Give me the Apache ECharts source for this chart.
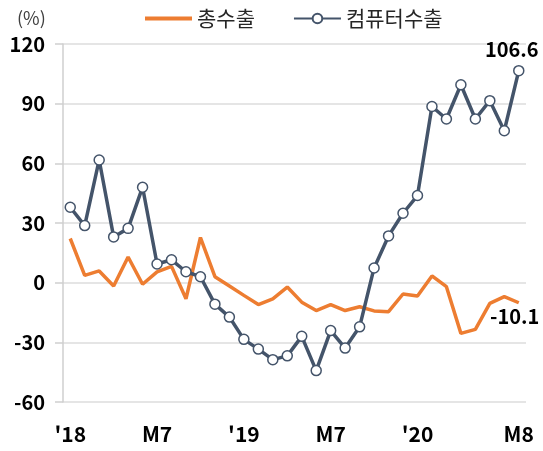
<!DOCTYPE html>
<html>
<head>
<meta charset="utf-8">
<script src="https://cdn.jsdelivr.net/npm/echarts@6/dist/echarts.min.js"></script>
<style>
  html, body { margin: 0; padding: 0; background: #fff; }
  #chart { width: 543px; height: 451px; }
</style>
</head>
<body>
<div id="chart"></div>
<script>
// 월별 (2018.1 ~ 2020.8)
const months = [
  '2018-01', '2018-02', '2018-03', '2018-04', '2018-05', '2018-06',
  '2018-07', '2018-08', '2018-09', '2018-10', '2018-11', '2018-12',
  '2019-01', '2019-02', '2019-03', '2019-04', '2019-05', '2019-06',
  '2019-07', '2019-08', '2019-09', '2019-10', '2019-11', '2019-12',
  '2020-01', '2020-02', '2020-03', '2020-04', '2020-05', '2020-06',
  '2020-07', '2020-08'
];
// x축에 보이는 눈금 라벨 (index -> text)
const tickIndex = [0, 6, 12, 18, 24, 31];
const tickText = ["'18", 'M7', "'19", 'M7', "'20", 'M8'];

// 총수출 증가율 (%)
const totalExport = [
  22.2, 3.7, 5.9, -1.7, 12.9, -0.8, 5.4, 8.2, -8.1, 22.7, 3.0, -1.7,
  -6.4, -11.0, -8.1, -2.2, -9.8, -14.0, -11.0, -14.0, -12.1, -14.2, -14.6, -5.7,
  -6.7, 3.4, -2.0, -25.5, -23.5, -10.4, -7.0, -10.1
];
// 컴퓨터수출 증가율 (%)
const computerExport = [
  37.9, 28.7, 61.7, 23.0, 27.3, 48.0, 9.4, 11.5, 5.5, 3.0, -10.8, -17.3,
  -28.5, -33.4, -38.7, -36.8, -27.0, -44.2, -24.1, -32.9, -22.2, 7.4, 23.5, 34.9,
  43.8, 88.6, 82.3, 99.5, 82.3, 91.5, 76.4, 106.6
];

const FONT = '"Noto Sans CJK KR", "Noto Sans", sans-serif';
const ORANGE = '#ED7D31';
const NAVY = '#44546A';
const last = months.length - 1;

const chart = echarts.init(document.getElementById('chart'));

const valueLabel = (pos, offset) => ({
  show: true,
  position: pos,
  distance: pos === 'top' ? 5 : 4,
  offset: offset,
  fontSize: 20,
  fontWeight: 'bold',
  color: '#000',
  fontFamily: FONT
});

const option = {
  animation: false,
  textStyle: { fontFamily: FONT },
  title: {
    text: '(%)',
    left: 12,
    top: 4,
    textStyle: { fontSize: 18, fontWeight: 'normal', color: '#404040', fontFamily: FONT }
  },
  legend: {
    left: 140,
    top: 3,
    itemWidth: 47,
    itemHeight: 12,
    itemGap: 38,
    textStyle: { fontSize: 21, color: '#262626', fontFamily: FONT },
    data: [
      { name: '총수출', icon: 'path://M0,0H47V4H0Z' },
      '컴퓨터수출'
    ]
  },
  grid: { left: 63, right: 17, top: 44, bottom: 49 },
  xAxis: {
    type: 'category',
    boundaryGap: true,
    data: months,
    axisLine: { show: false },
    axisTick: { show: false },
    axisLabel: {
      margin: 22,
      fontSize: 21,
      fontWeight: 'bold',
      color: '#000',
      fontFamily: FONT,
      interval: (idx) => tickIndex.includes(idx),
      formatter: (val, idx) => {
        const k = tickIndex.indexOf(idx);
        return k >= 0 ? tickText[k] : '';
      }
    }
  },
  yAxis: {
    type: 'value',
    min: -60,
    max: 120,
    interval: 30,
    axisLine: { show: true, lineStyle: { color: '#cfcfcf', width: 1.5 } },
    axisTick: { show: true, length: 8, lineStyle: { color: '#cfcfcf', width: 1.5 } },
    axisLabel: {
      margin: 18,
      fontSize: 20,
      fontWeight: 'bold',
      color: '#000',
      fontFamily: FONT
    },
    splitLine: { lineStyle: { color: '#dcdcdc', width: 1.5 } }
  },
  series: [
    {
      name: '총수출',
      type: 'line',
      symbol: 'none',
      lineStyle: { color: ORANGE, width: 3.5 },
      itemStyle: { color: ORANGE },
      z: 2,
      data: totalExport.map((v, i) => i === last ? {
        value: v,
        symbol: 'circle',
        symbolSize: 0,
        label: valueLabel('bottom', [-4, 0])
      } : v)
    },
    {
      name: '컴퓨터수출',
      type: 'line',
      symbol: 'circle',
      symbolSize: 10,
      showAllSymbol: true,
      lineStyle: { color: NAVY, width: 3.5 },
      itemStyle: { color: '#fff', borderColor: NAVY, borderWidth: 1.5 },
      z: 3,
      data: computerExport.map((v, i) => i === last ? {
        value: v,
        label: valueLabel('top', [-7, 0])
      } : v)
    }
  ]
};

chart.setOption(option);
</script>
</body>
</html>
